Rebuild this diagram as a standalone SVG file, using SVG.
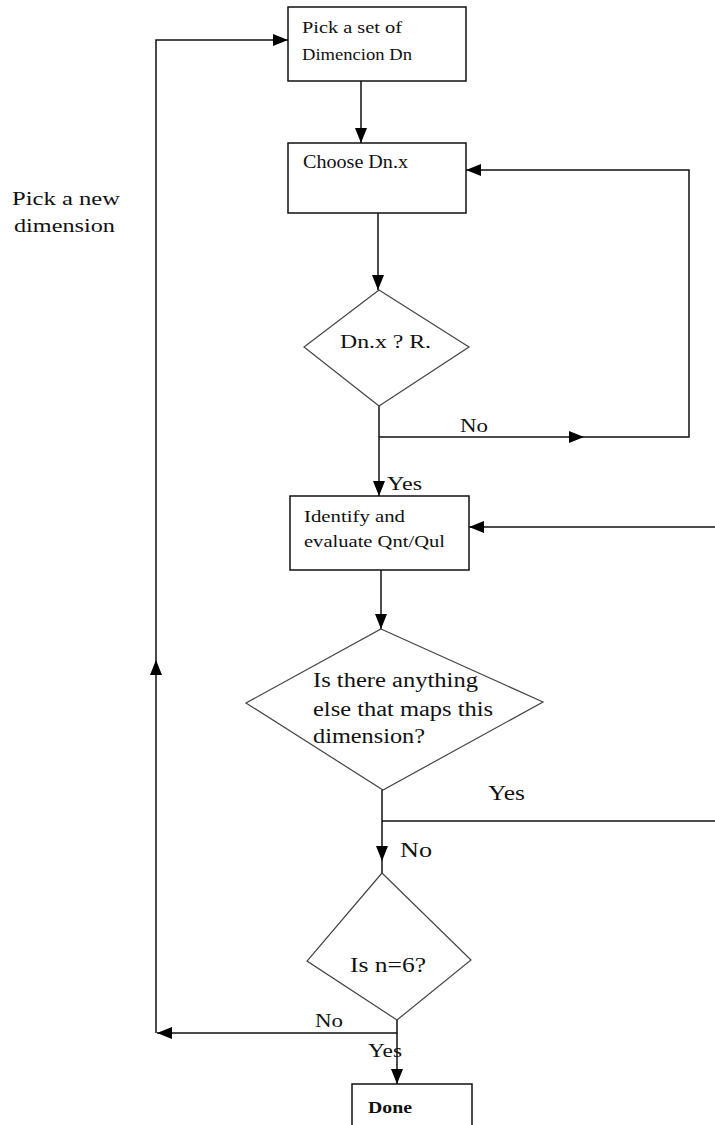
<svg xmlns="http://www.w3.org/2000/svg" width="715" height="1125" viewBox="0 0 715 1125">
<defs>
<marker id="ah" markerUnits="userSpaceOnUse" markerWidth="15" markerHeight="12" refX="15" refY="6" orient="auto">
<path d="M0,0 L15,6 L0,12 z" fill="#000"/>
</marker>
<style>
.box{fill:#fff;stroke:#111;stroke-width:1.5}
.dia{fill:#fff;stroke:#444;stroke-width:1.2}
.con{fill:none;stroke:#111;stroke-width:1.5}
.arr{marker-end:url(#ah)}
text{font-family:"Liberation Serif","Times New Roman",serif;fill:#111}
.t{font-size:19px}
.s{font-size:17px}
.l{font-size:20px}
</style>
</defs>
<rect width="715" height="1125" fill="#fff"/>
<g id="connectors">
<line class="con arr" x1="361" y1="81" x2="361" y2="143"/>
<line class="con arr" x1="378" y1="213" x2="378" y2="290"/>
<line class="con arr" x1="379" y1="406" x2="379" y2="496"/>
<line class="con arr" x1="379" y1="437" x2="584" y2="437"/>
<polyline class="con arr" points="584,437 689,437 689,170 466,170"/>
<line class="con arr" x1="381" y1="570" x2="381" y2="629"/>
<line class="con arr" x1="382" y1="790" x2="382" y2="861"/>
<line class="con" x1="382" y1="861" x2="382" y2="873"/>
<line class="con" x1="382" y1="821" x2="715" y2="821"/>
<line class="con arr" x1="715" y1="527" x2="469" y2="527"/>
<polyline class="con arr" points="397,1020 397,1033 157,1033"/>
<line class="con arr" x1="397" y1="1033" x2="397" y2="1084"/>
<line class="con arr" x1="156" y1="1033" x2="156" y2="660"/>
<polyline class="con arr" points="156,660 156,40 288,40"/>
</g>
<g id="n1"><rect class="box" x="288" y="7" width="178" height="74"/>
<text class="s" x="302" y="33" textLength="100" lengthAdjust="spacingAndGlyphs">Pick a set of</text>
<text class="s" x="302" y="60" textLength="110" lengthAdjust="spacingAndGlyphs">Dimencion Dn</text></g>
<g id="n2"><rect class="box" x="288" y="143" width="178" height="70"/>
<text class="t" x="303" y="168" textLength="105" lengthAdjust="spacingAndGlyphs">Choose Dn.x</text></g>
<g id="d1"><polygon class="dia" points="379,290 469,347 379,406 304,347"/>
<text class="t" x="340" y="348" textLength="91" lengthAdjust="spacingAndGlyphs">Dn.x ? R.</text></g>
<g id="n3"><rect class="box" x="290" y="496" width="179" height="74"/>
<text class="s" x="304" y="522" textLength="101" lengthAdjust="spacingAndGlyphs">Identify and</text>
<text class="s" x="304" y="547" textLength="141" lengthAdjust="spacingAndGlyphs">evaluate Qnt/Qul</text></g>
<g id="d2"><polygon class="dia" points="381,629 543,702 383,790 246,703"/>
<text class="l" x="313" y="687" textLength="165" lengthAdjust="spacingAndGlyphs">Is there anything</text>
<text class="l" x="313" y="716" textLength="180" lengthAdjust="spacingAndGlyphs">else that maps this</text>
<text class="l" x="313" y="743" textLength="112" lengthAdjust="spacingAndGlyphs">dimension?</text></g>
<g id="d3"><polygon class="dia" points="382,873 471,960 397,1020 307,961"/>
<text class="l" x="350" y="972" textLength="76" lengthAdjust="spacingAndGlyphs">Is n=6?</text></g>
<g id="n4"><rect class="box" x="352" y="1084" width="120" height="50"/>
<text class="s" x="368" y="1113" font-weight="bold" textLength="44" lengthAdjust="spacingAndGlyphs">Done</text></g>
<g id="labels">
<text class="t" x="12" y="205" textLength="108" lengthAdjust="spacingAndGlyphs">Pick a new</text>
<text class="t" x="14" y="232" textLength="101" lengthAdjust="spacingAndGlyphs">dimension</text>
<text class="t" x="460" y="432" textLength="28" lengthAdjust="spacingAndGlyphs">No</text>
<text class="t" x="387" y="490" textLength="35" lengthAdjust="spacingAndGlyphs">Yes</text>
<text class="l" x="488" y="800" textLength="37" lengthAdjust="spacingAndGlyphs">Yes</text>
<text class="l" x="400" y="857" textLength="32" lengthAdjust="spacingAndGlyphs">No</text>
<text class="t" x="315" y="1027" textLength="28" lengthAdjust="spacingAndGlyphs">No</text>
<text class="t" x="368" y="1057" textLength="34" lengthAdjust="spacingAndGlyphs">Yes</text>
</g>
</svg>
